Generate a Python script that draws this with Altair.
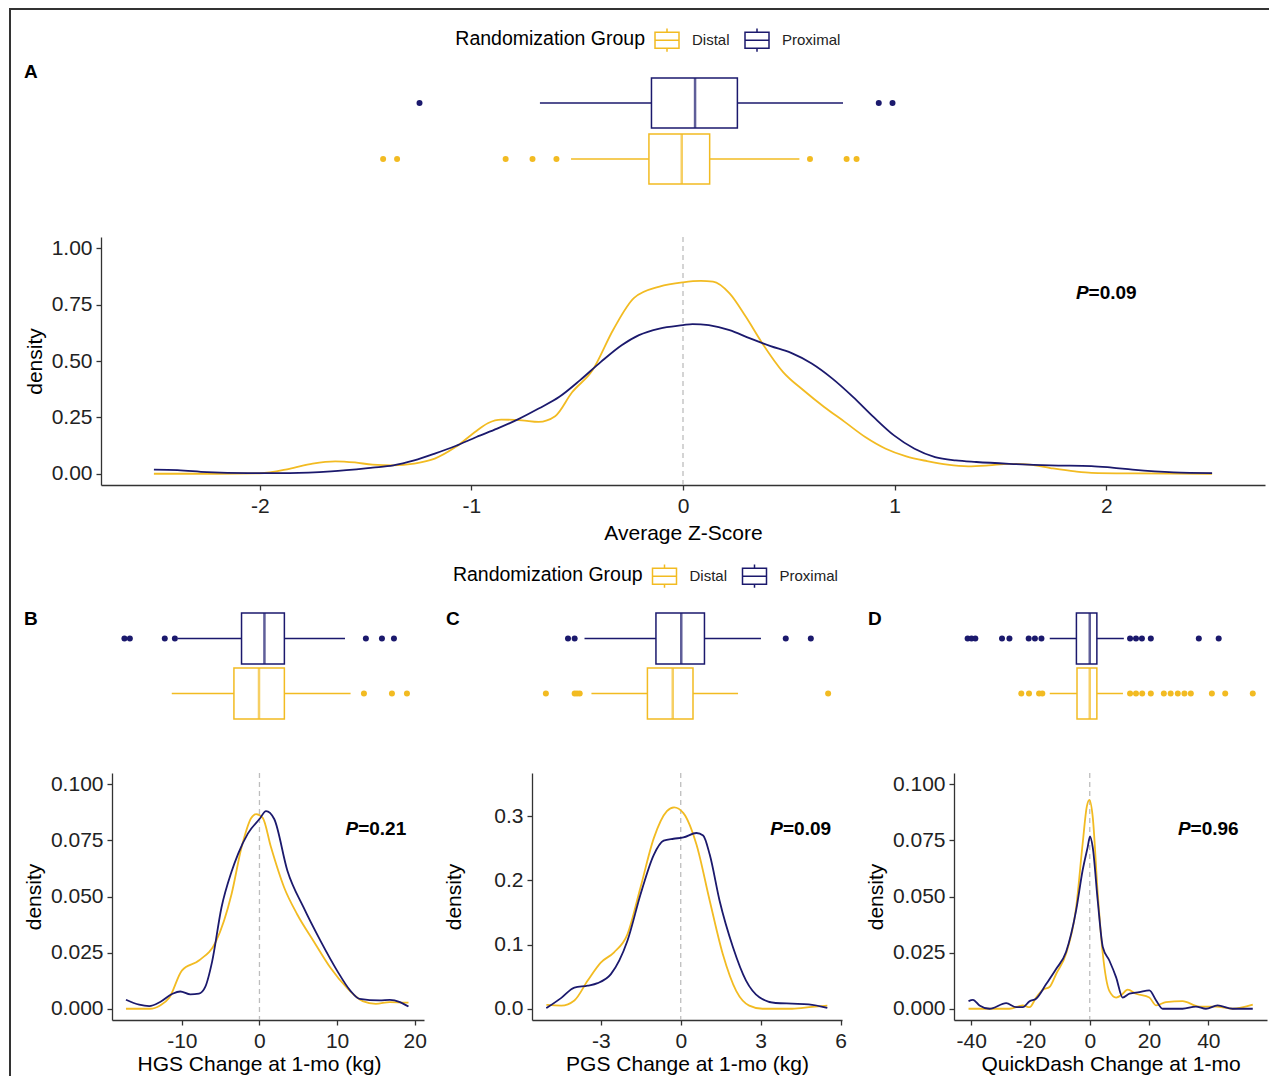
import altair as alt
import pandas as pd

FONT = "Liberation Sans"
GROUPS = ["Distal", "Proximal"]
COLORS = ["#F2BB22", "#1B196D"]
BOX_ROWS = ["Proximal", "Distal"]
LEGEND_TITLE = "Randomization Group"
PANELS = ["A", "B", "C", "D"]
X_TITLES = ["Average Z-Score", "HGS Change at 1-mo (kg)",
            "PGS Change at 1-mo (kg)", "QuickDash Change at 1-mo"]
Y_TITLE = "density"
P_VALUES = ["0.09", "0.21", "0.09", "0.96"]
P_X = [2.0, 15.0, 4.5, 40.0]
P_Y = [0.80, 0.08, 0.28, 0.08]
X_DOMAINS = [[-2.75, 2.75], [-19.0, 21.2], [-5.58, 6.05], [-45.8, 59.8]]
Y_DOMAINS = [[-0.05, 1.05], [-0.005, 0.105], [-0.0175, 0.3675], [-0.005, 0.105]]
X_TICKS = [[-2, -1, 0, 1, 2], [-10, 0, 10, 20], [-3, 0, 3, 6], [-40, -20, 0, 20, 40]]
Y_TICKS = [[0, 0.25, 0.5, 0.75, 1.0], [0, 0.025, 0.05, 0.075, 0.1],
           [0, 0.1, 0.2, 0.3], [0, 0.025, 0.05, 0.075, 0.1]]
Y_FORMATS = [".2f", ".3f", ".1f", ".3f"]

# ---- density curves ----
A_DIST_X = [-2.5, -2.2, -2.0, -1.86, -1.75, -1.643, -1.55, -1.467, -1.37, -1.27, -1.173, -1.075,
            -0.976, -0.92, -0.859, -0.761, -0.682, -0.604, -0.525, -0.427, -0.329, -0.231, -0.111,
            0.0, 0.084, 0.142, 0.22, 0.297, 0.375, 0.472, 0.569, 0.667, 0.764, 0.861, 0.958, 1.055,
            1.153, 1.25, 1.347, 1.444, 1.541, 1.638, 1.736, 1.852, 1.93, 2.124, 2.5]
A_DIST_Y = [0.0, 0.0, 0.002, 0.022, 0.045, 0.055, 0.05, 0.04, 0.037, 0.045, 0.067, 0.118,
            0.19, 0.225, 0.24, 0.237, 0.23, 0.255, 0.36, 0.46, 0.64, 0.78, 0.83,
            0.849, 0.855, 0.852, 0.80, 0.696, 0.578, 0.452, 0.37, 0.296, 0.23, 0.163, 0.111, 0.077,
            0.056, 0.04, 0.033, 0.037, 0.044, 0.04, 0.025, 0.010, 0.004, 0.0015, 0.0]
A_PROX_X = [-2.5, -2.388, -2.25, -2.055, -1.859, -1.663, -1.467, -1.369, -1.27, -1.173, -1.075,
            -0.976, -0.878, -0.78, -0.682, -0.584, -0.486, -0.388, -0.29, -0.208, -0.111, 0.0,
            0.045, 0.122, 0.22, 0.317, 0.414, 0.511, 0.608, 0.706, 0.803, 0.9, 0.997, 1.094,
            1.191, 1.289, 1.386, 1.541, 1.736, 1.93, 2.027, 2.124, 2.318, 2.5]
A_PROX_Y = [0.018, 0.016, 0.007, 0.003, 0.003, 0.01, 0.027, 0.037, 0.059, 0.089, 0.123,
            0.163, 0.2, 0.241, 0.289, 0.341, 0.415, 0.496, 0.57, 0.615, 0.644, 0.659,
            0.664, 0.659, 0.637, 0.6, 0.566, 0.536, 0.489, 0.422, 0.341, 0.252, 0.17, 0.111,
            0.074, 0.059, 0.052, 0.044, 0.037, 0.034, 0.027, 0.018, 0.006, 0.003]

B_DIST_X = [-17.2, -14.1, -12.8, -11.6, -10.0, -7.8, -5.6, -3.6, -2.3, -1.06, -0.42, 0.42,
            1.48, 3.18, 4.87, 7.0, 9.1, 11.2, 13.3, 15.0, 16.8, 19.2]
B_DIST_Y = [0.0, 0.0, 0.0015, 0.005, 0.017, 0.0215, 0.030, 0.051, 0.072, 0.085, 0.0867, 0.085,
            0.072, 0.054, 0.042, 0.030, 0.0185, 0.0096, 0.0034, 0.0022, 0.003, 0.0027]
B_PROX_X = [-17.2, -15.5, -14.2, -12.8, -11.2, -10.2, -8.9, -7.8, -7.0, -6.1, -4.9, -3.6,
            -2.75, -1.5, 0.0, 0.85, 1.9, 3.6, 5.7, 7.9, 10.0, 11.7, 12.9, 15.5, 16.8, 18.1, 19.2]
B_PROX_Y = [0.004, 0.0018, 0.0012, 0.003, 0.0067, 0.0077, 0.0064, 0.0067, 0.0096, 0.021,
            0.045, 0.061, 0.069, 0.078, 0.0845, 0.088, 0.0845, 0.0615, 0.045, 0.030, 0.017,
            0.0081, 0.0044, 0.0037, 0.004, 0.003, 0.001]

C_DIST_X = [-5.04, -4.48, -3.99, -3.49, -3.0, -2.5, -2.0, -1.51, -1.01, -0.52, -0.25, 0.1,
            0.59, 1.09, 1.58, 2.08, 2.57, 3.07, 4.18, 4.93, 5.5]
C_DIST_Y = [0.006, 0.005, 0.013, 0.044, 0.072, 0.088, 0.116, 0.189, 0.266, 0.308, 0.314, 0.305,
            0.256, 0.168, 0.085, 0.028, 0.005, 0.0, 0.0, 0.003, 0.005]
C_PROX_X = [-5.04, -4.48, -3.99, -3.49, -3.12, -2.62, -2.0, -1.51, -1.01, -0.64, -0.27, 0.1,
            0.59, 0.84, 1.09, 1.46, 1.96, 2.45, 2.95, 3.56, 4.18, 4.8, 5.5]
C_PROX_Y = [0.001, 0.017, 0.033, 0.036, 0.04, 0.054, 0.106, 0.178, 0.24, 0.262, 0.265, 0.267,
            0.274, 0.27, 0.24, 0.168, 0.096, 0.044, 0.018, 0.009, 0.008, 0.007, 0.0015]

D_DIST_X = [-40.9, -27.1, -22.6, -20.3, -18.1, -15.8, -13.6, -11.3, -8.0, -4.6, -2.4, -1.0,
            -0.1, 1.0, 2.7, 4.4, 6.6, 8.9, 10.6, 12.8, 15.6, 20.1, 22.4, 25.7, 31.3, 37.0,
            42.6, 48.2, 55.0]
D_DIST_Y = [0.0, 0.0, 0.0015, 0.0007, 0.005, 0.0085, 0.0097, 0.0156, 0.0245, 0.045, 0.0735,
            0.09, 0.093, 0.0855, 0.0513, 0.0245, 0.008, 0.005, 0.006, 0.0085, 0.0067, 0.005,
            0.0015, 0.003, 0.0034, 0.001, 0.001, 0.0, 0.0018]
D_PROX_X = [-40.9, -39.4, -37.2, -33.8, -28.2, -24.8, -22.6, -20.3, -18.1, -14.7, -11.3, -8.0,
            -4.6, -2.4, -0.7, 0.1, 1.0, 2.7, 4.4, 6.6, 8.9, 11.1, 13.4, 16.7, 20.1, 22.4, 24.6,
            31.3, 35.8, 39.2, 43.1, 48.2, 55.0]
D_PROX_Y = [0.0034, 0.004, 0.0015, 0.0, 0.0025, 0.0007, 0.0007, 0.0034, 0.0045, 0.011, 0.0178,
            0.0253, 0.0438, 0.0617, 0.072, 0.0768, 0.072, 0.048, 0.0275, 0.0215, 0.014, 0.005,
            0.0067, 0.0074, 0.0082, 0.0037, 0.0, 0.0, 0.001, 0.0, 0.0015, 0.0, 0.0]

# ---- box plot summaries (whisker low, Q1, median, Q3, whisker high) and outliers ----
BOX_STATS = {
    "A": {"Proximal": [-0.676, -0.149, 0.057, 0.257, 0.756],
          "Distal": [-0.529, -0.161, -0.006, 0.126, 0.550]},
    "B": {"Proximal": [-10.5, -2.31, 0.64, 3.21, 11.02],
          "Distal": [-11.3, -3.29, -0.06, 3.21, 11.74]},
    "C": {"Proximal": [-3.61, -0.93, 0.02, 0.89, 3.01],
          "Distal": [-3.35, -1.25, -0.30, 0.46, 2.15]},
    "D": {"Proximal": [-13.5, -4.5, 0.0, 2.4, 11.5],
          "Distal": [-13.5, -4.3, 0.0, 2.4, 11.2]},
}
OUTLIERS = {
    "A": {"Proximal": [-1.245, 0.925, 0.990],
          "Distal": [-1.417, -1.351, -0.838, -0.711, -0.598, 0.600, 0.773, 0.820]},
    "B": {"Proximal": [-17.4, -16.7, -12.2, -10.9, 13.71, 15.78, 17.33],
          "Distal": [13.46, 17.07, 19.0]},
    "C": {"Proximal": [-4.23, -3.98, 3.94, 4.88],
          "Distal": [-5.06, -3.98, -3.89, -3.79, 5.53]},
    "D": {"Proximal": [-41.2, -39.9, -38.6, -29.6, -27.1, -20.6, -18.5, -16.3,
                       13.6, 15.6, 17.6, 20.6, 36.8, 43.5],
          "Distal": [-23.1, -20.5, -17.1, -16.0, 13.6, 15.6, 17.7, 20.6,
                     25.0, 27.3, 29.7, 31.95, 34.1, 41.2, 45.7, 55.0]},
}

DENSITIES = [
    (A_DIST_X, A_DIST_Y, A_PROX_X, A_PROX_Y),
    (B_DIST_X, B_DIST_Y, B_PROX_X, B_PROX_Y),
    (C_DIST_X, C_DIST_Y, C_PROX_X, C_PROX_Y),
    (D_DIST_X, D_DIST_Y, D_PROX_X, D_PROX_Y),
]

LEGEND_SYMBOL = "M-1,-0.67H1V0.67H-1Z M-1,0H1 M0,-0.67V-0.97 M0,0.67V0.97"
ONE = pd.DataFrame({"k": [0]})


def group_color():
    return alt.when(alt.datum.group == GROUPS[0]).then(
        alt.value(COLORS[0])).otherwise(alt.value(COLORS[1]))


def block(x, x2, y, y2, visible=False):
    """A filled strip in view pixels: the figure frame, or an invisible layout anchor."""
    return alt.Chart(ONE).mark_rect(fill="#333333" if visible else "transparent",
                                    strokeWidth=0).encode(
        x=alt.value(x), x2=alt.value(x2), y=alt.value(y), y2=alt.value(y2))


def spacer():
    return alt.Chart(ONE).mark_point(opacity=0, size=0, strokeWidth=0).encode(
        x=alt.value(0), y=alt.value(0)).properties(width=1, height=1)


def density_chart(i, width, height, y_title_x, x_title_x=None, title_pad=6, extra=()):
    dx, dy, px, py = DENSITIES[i]
    df = pd.DataFrame({
        "x": dx + px,
        "y": dy + py,
        "group": [GROUPS[0]] * len(dx) + [GROUPS[1]] * len(px),
    })
    xs = alt.Scale(domain=X_DOMAINS[i], nice=False, zero=False)
    ys = alt.Scale(domain=Y_DOMAINS[i], nice=False, zero=False)
    xax = dict(values=X_TICKS[i], labelExpr="toString(datum.value)", title=X_TITLES[i],
               grid=False, titlePadding=title_pad)
    if x_title_x is not None:
        xax["titleX"] = x_title_x
    x_enc = alt.X("x:Q", scale=xs, axis=alt.Axis(**xax))
    y_enc = alt.Y("y:Q", scale=ys, axis=alt.Axis(values=Y_TICKS[i], format=Y_FORMATS[i],
                                                title=Y_TITLE, titleX=y_title_x, grid=False,
                                                labelPadding=4))
    zero = alt.Chart(pd.DataFrame({"x": [0.0]})).mark_rule(
        color="#BDBDBD", strokeDash=[5, 4], strokeWidth=1.3).encode(x=x_enc)
    lines = alt.Chart(df).mark_line(interpolate="monotone", strokeWidth=1.8).encode(
        x=x_enc, y=y_enc,
        color=alt.Color("group:N", scale=alt.Scale(domain=GROUPS, range=COLORS), legend=None))
    pdf = pd.DataFrame({"x": [P_X[i]], "y": [P_Y[i]], "p": ["P"], "rest": ["=" + P_VALUES[i]]})
    p1 = alt.Chart(pdf).mark_text(font=FONT, fontSize=19, fontWeight="bold", fontStyle="italic",
                                  align="right", baseline="middle", dx=-17.7,
                                  color="black").encode(x=x_enc, y=y_enc, text="p:N")
    p2 = alt.Chart(pdf).mark_text(font=FONT, fontSize=19, fontWeight="bold",
                                  align="left", baseline="middle", dx=-17.7,
                                  color="black").encode(x=x_enc, y=y_enc, text="rest:N")
    return alt.layer(zero, lines, p1, p2, *extra).properties(width=width, height=height)


def box_chart(i, width, height, band, pad_inner, pad_outer, letter_xy, legend_xy=None,
              extra=()):
    key = PANELS[i]
    rows = []
    for g in BOX_ROWS:
        s = BOX_STATS[key][g]
        rows.append({"group": g, "wlo": s[0], "q1": s[1], "med": s[2], "q3": s[3], "whi": s[4]})
    df = pd.DataFrame(rows)
    dfo = pd.DataFrame([{"group": g, "value": v} for g in BOX_ROWS for v in OUTLIERS[key][g]])
    xs = alt.Scale(domain=X_DOMAINS[i], nice=False, zero=False)
    ys = alt.Scale(domain=BOX_ROWS, paddingInner=pad_inner, paddingOuter=pad_outer)
    y = alt.Y("group:N", scale=ys, axis=None)
    layers = []
    if legend_xy is not None:
        # legend_xy: (x of first key, y of key tops, right end of the legend title)
        leg = alt.Legend(orient="none", legendX=legend_xy[0], legendY=legend_xy[1],
                         direction="horizontal", title=None,
                         labelFont=FONT, labelFontSize=15, labelColor="#222",
                         labelOffset=12, columnPadding=12, padding=0,
                         symbolType=LEGEND_SYMBOL, symbolSize=576, symbolStrokeWidth=1.5,
                         symbolFillColor="white")
        stroke = alt.Stroke("group:N", scale=alt.Scale(domain=GROUPS, range=COLORS), legend=leg)
        layers.append(alt.Chart(pd.DataFrame({"t": [LEGEND_TITLE]})).mark_text(
            font=FONT, fontSize=19.5, align="right", baseline="middle", color="black").encode(
            x=alt.value(legend_xy[2]), y=alt.value(legend_xy[1] + 12), text="t:N"))
    else:
        stroke = group_color()
    whisk = alt.Chart(df).mark_rule(strokeWidth=1.5).encode(
        x=alt.X("wlo:Q", scale=xs, axis=None), x2="whi:Q", y=y, stroke=group_color())
    box = alt.Chart(df).mark_bar(fill="white", strokeWidth=1.5).encode(
        x=alt.X("q1:Q", scale=xs, axis=None), x2="q3:Q", y=y, stroke=stroke)
    med = alt.Chart(df).mark_tick(thickness=2.5, size=band).encode(
        x=alt.X("med:Q", scale=xs, axis=None), y=y, fill=group_color())
    pts = alt.Chart(dfo).mark_circle(size=36, opacity=1).encode(
        x=alt.X("value:Q", scale=xs, axis=None), y=y, fill=group_color())
    letter = alt.Chart(pd.DataFrame({"t": [key]})).mark_text(
        font=FONT, fontSize=19, fontWeight="bold", align="left", baseline="middle",
        color="black").encode(x=alt.value(letter_xy[0]), y=alt.value(letter_xy[1]), text="t:N")
    return alt.layer(whisk, box, med, pts, letter, *layers, *extra).properties(
        width=width, height=height)


IND = dict(color="independent", stroke="independent", fill="independent")

# Panel A; the figure frame (top line and upper part of the left line) is drawn in its box view
a_box = box_chart(0, 1164, 112, 50, 0.107, 0.0535, (-77, -3), legend_xy=(553, -48, 544),
                  extra=[block(-92, -90, -67, 475, visible=True),
                         block(-92, 1168, -67, -65, visible=True)])
a_den = density_chart(0, 1164, 248, -56)
group_a = alt.vconcat(a_box, a_den, spacing=50, bounds="flush").resolve_scale(**IND)
row_a = alt.hconcat(spacer(), group_a, spacing=0).resolve_scale(**IND)

# lower row; B's box view carries the lower part of the frame's left line
b_box = box_chart(1, 312, 110, 51, 0.0727, 0.0364, (-88, 8),
                  extra=[block(-103, -101, -61, 465, visible=True), block(318, 318, -60, 0)])
c_box = box_chart(2, 310, 110, 51, 0.0727, 0.0364, (-86, 8), legend_xy=(119.5, -48, 110.6),
                  extra=[block(-96, -96, -60, 0), block(318, 318, -60, 0)])
d_box = box_chart(3, 313, 110, 51, 0.0727, 0.0364, (-86, 8),
                  extra=[block(-98, -98, -60, 0)])
b_den = density_chart(1, 312, 247, -68, x_title_x=147, title_pad=2)
c_den = density_chart(2, 310, 247, -68, title_pad=2)
d_den = density_chart(3, 313, 247, -68, title_pad=2)

col_b = alt.vconcat(b_box, b_den, spacing=52, bounds="flush").resolve_scale(**IND)
col_c = alt.vconcat(c_box, c_den, spacing=52, bounds="flush").resolve_scale(**IND)
col_d = alt.vconcat(d_box, d_den, spacing=52, bounds="flush").resolve_scale(**IND)
lower = alt.hconcat(col_b, col_c, col_d, spacing=6).resolve_scale(**IND)
row_low = alt.hconcat(spacer(), lower, spacing=0).resolve_scale(**IND)

chart = alt.vconcat(row_a, row_low, spacing=0).resolve_scale(
    **IND).properties(padding=0).configure(font=FONT).configure_view(stroke=None).configure_axis(
    domainColor="#333333", domainWidth=1.3, tickColor="#333333", tickWidth=1.3, tickSize=5,
    labelFont=FONT, labelFontSize=21, labelColor="#222222", labelPadding=5,
    titleFont=FONT, titleFontSize=21, titleFontWeight="normal", titleColor="black",
    titlePadding=6, grid=False
)

chart.save("out.html", embed_options={"renderer": "svg", "actions": False})
